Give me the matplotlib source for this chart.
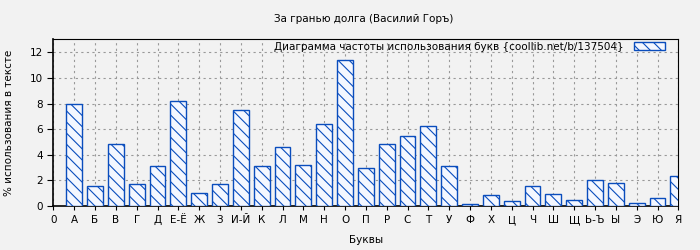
import matplotlib
matplotlib.use("Agg")
import matplotlib.pyplot as plt
import numpy as np

plt.rcParams['font.family'] = ['DejaVu Sans']
plt.rcParams['hatch.color'] = '#0a4dbd'
plt.rcParams['hatch.linewidth'] = 0.8

tick_labels = ["0", "А", "Б", "В", "Г", "Д", "Е-Ё", "Ж", "З", "И-Й", "К", "Л", "М", "Н", "О",
               "П", "Р", "С", "Т", "У", "Ф", "Х", "Ц", "Ч", "Ш", "Щ", "Ь-Ъ", "Ы", "Э", "Ю", "Я"]
letters = tick_labels[1:]
values = [7.95, 1.54, 4.82, 1.70, 3.10, 8.18, 0.99, 1.70, 7.48, 3.10, 4.59, 3.18, 6.40, 11.38,
          2.95, 4.82, 5.45, 6.23, 3.10, 0.13, 0.83, 0.37, 1.54, 0.91, 0.44, 2.00, 1.77, 0.21, 0.62, 2.32]

fs = 7.5
fig = plt.figure(figsize=(7, 2.5), dpi=100, facecolor='#f2f2f2')
ax = fig.add_axes([0.0762, 0.176, 0.8929, 0.668])
ax.set_facecolor('#f2f2f2')

x = np.arange(1, len(values) + 1)
ax.bar(x, values, width=0.76, color='#f4f7ff', edgecolor='#0a4dbd', linewidth=1.0,
       hatch='\\\\\\', label='Диаграмма частоты использования букв {coollib.net/b/137504}', zorder=3)

ax.set_xlim(0, 30)
ax.set_ylim(0, 13.05)
ax.set_xticks(np.arange(len(tick_labels)))
ax.set_xticklabels(tick_labels, fontsize=fs)
ax.set_yticks([0, 2, 4, 6, 8, 10, 12])
ax.tick_params(axis='y', labelsize=fs, length=4)
ax.tick_params(axis='x', length=3)
ax.grid(True, color='#999999', linestyle=(0, (2, 3)), linewidth=0.8, zorder=0)
for s in ax.spines.values():
    s.set_color('black')
    s.set_linewidth(0.8)
ax.spines['left'].set_linewidth(1.2)
ax.spines['bottom'].set_linewidth(1.2)

ax.set_xlabel('Буквы', fontsize=fs, labelpad=7)
ax.set_ylabel('% использования в тексте', fontsize=fs, labelpad=11)
fig.text(0.519, 0.924, 'За гранью долга (Василий Горъ)', fontsize=fs, ha='center', va='center')

leg = ax.legend(loc='upper right', bbox_to_anchor=(0.982, 1.0), frameon=False, markerfirst=False,
                fontsize=fs, handlelength=2.9, handleheight=0.75, borderaxespad=0.0,
                borderpad=0.25, handletextpad=1.0)

fig.savefig('out.png', dpi=100, facecolor=fig.get_facecolor())
